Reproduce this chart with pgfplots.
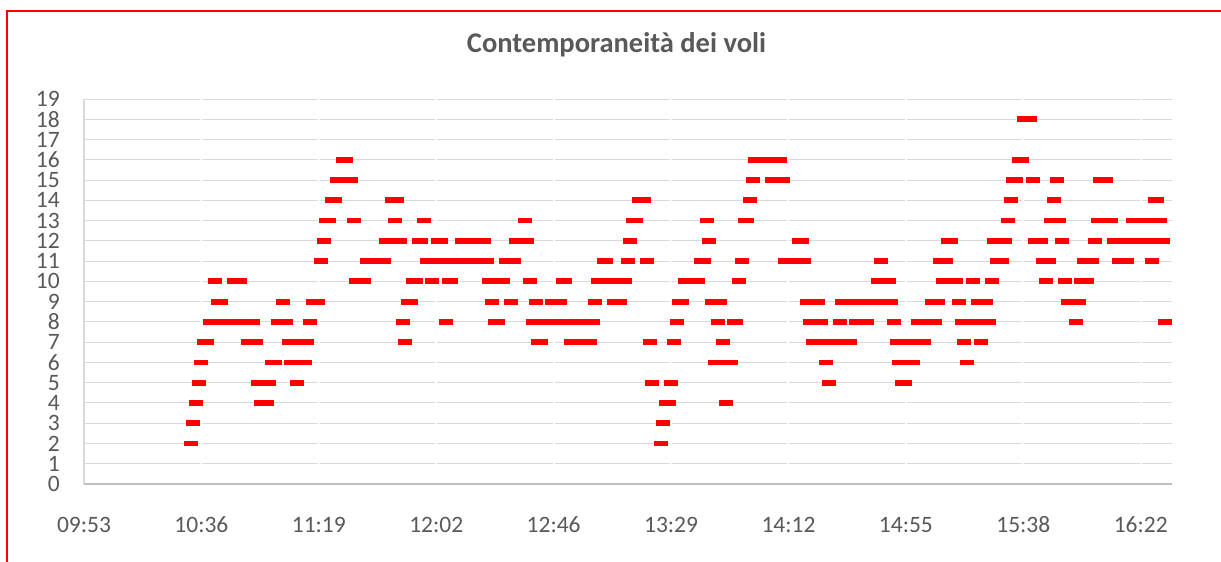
\documentclass[border=0pt]{standalone}
\usepackage{fontspec}
\setmainfont{Carlito}
\usepackage{pgfplots}
\pgfplotsset{compat=1.18}
\definecolor{lab}{RGB}{89,89,89}
\definecolor{gridc}{RGB}{217,217,217}
\definecolor{axc}{RGB}{191,191,191}
\pgfdeclareplotmark{dashbar}{\pgfpathrectangle{\pgfqpoint{-7pt}{-2.9pt}}{\pgfqpoint{14pt}{5.8pt}}\pgfusepathqfill}
% x = minutes after midnight, y = simultaneous flights
\pgfplotstableread{
x y
632.7 2
805.6 2
633.4 3
806.4 3
634.5 4
658.4 4
660.6 4
807.5 4
808.6 4
829.5 4
635.6 5
657.3 5
661.4 5
671.7 5
802.3 5
809.3 5
867.4 5
894.3 5
895.4 5
636.3 6
662.5 6
663.6 6
669.5 6
674.6 6
825.5 6
828.4 6
831.4 6
866.3 6
893.2 6
898.4 6
918.2 6
637.4 7
638.5 7
653.6 7
656.6 7
668.7 7
672.8 7
675.4 7
711.4 7
760.4 7
761.5 7
772.5 7
776.9 7
779.5 7
801.6 7
810.4 7
828.4 7
861.6 7
866.3 7
870.8 7
875.2 7
892.5 7
897.4 7
902.4 7
917.1 7
923.4 7
639.7 8
644.1 8
648.5 8
652.9 8
655.5 8
664.7 8
667.6 8
676.4 8
710.7 8
726.5 8
744.5 8
745.6 8
758.5 8
763.3 8
768.1 8
772.9 8
777.6 8
780.6 8
811.5 8
826.6 8
832.5 8
833.2 8
860.5 8
864.5 8
871.5 8
877.4 8
881.4 8
891.4 8
900.2 8
903.9 8
906.5 8
916.4 8
921.3 8
926.3 8
958.3 8
991.1 8
642.6 9
643.7 9
666.5 9
677.6 9
679.4 9
712.5 9
713.6 9
743.4 9
750.4 9
759.6 9
765.5 9
768.4 9
781.3 9
788.3 9
790.5 9
812.2 9
813.3 9
824.4 9
827.3 9
859.4 9
863.4 9
872.2 9
877.0 9
881.8 9
886.2 9
890.3 9
905.3 9
907.6 9
915.3 9
922.3 9
925.2 9
955.4 9
959.4 9
641.5 10
648.5 10
650.7 10
693.4 10
696.3 10
714.4 10
715.5 10
721.3 10
727.6 10
728.3 10
742.3 10
747.5 10
757.4 10
769.6 10
770.3 10
782.4 10
787.4 10
792.4 10
814.4 10
819.2 10
834.3 10
885.5 10
889.5 10
909.4 10
914.2 10
920.4 10
927.4 10
947.3 10
954.3 10
960.2 10
962.4 10
680.5 11
697.4 11
701.1 11
703.7 11
719.5 11
724.3 11
729.1 11
733.9 11
738.6 11
741.6 11
748.6 11
751.5 11
784.6 11
785.4 11
793.5 11
800.5 11
820.3 11
821.4 11
835.4 11
851.3 11
855.7 11
858.3 11
886.6 11
908.3 11
910.5 11
929.3 11
931.1 11
946.2 11
948.4 11
961.3 11
964.2 11
974.2 11
977.1 11
986.3 11
681.6 12
704.4 12
709.6 12
716.6 12
717.3 12
723.6 12
724.7 12
732.4 12
736.4 12
740.5 12
752.3 12
756.3 12
794.2 12
823.3 12
856.4 12
857.5 12
911.2 12
912.4 12
928.2 12
932.2 12
943.3 12
945.5 12
953.2 12
965.3 12
972.3 12
977.1 12
981.9 12
986.3 12
990.4 12
682.3 13
683.4 13
692.6 13
707.7 13
718.4 13
755.6 13
795.3 13
796.4 13
822.5 13
836.5 13
837.3 13
933.3 13
949.1 13
952.1 13
966.4 13
971.2 13
979.3 13
984.3 13
989.3 13
684.5 14
685.7 14
706.6 14
708.5 14
797.5 14
799.4 14
838.4 14
934.4 14
950.2 14
987.4 14
988.1 14
686.4 15
691.5 15
839.5 15
846.5 15
850.5 15
935.1 15
936.3 15
942.5 15
951.3 15
967.2 15
969.4 15
688.6 16
689.7 16
840.2 16
844.6 16
849.4 16
937.4 16
938.5 16
939.2 18
941.4 18
}\flights
\begin{document}
\begin{tikzpicture}
\useasboundingbox (0pt,0pt) rectangle (1221pt,-562pt);
\clip (0pt,0pt) rectangle (1221pt,-562pt);
\fill[white] (0pt,0pt) rectangle (1221pt,-562pt);
\draw[red, line width=2pt] (7pt,-600pt) -- (7pt,-11pt) -- (1260pt,-11pt);
\begin{axis}[
  at={(84pt,-484pt)}, anchor=south west,
  scale only axis, width=1088pt, height=385pt,
  xmin=593.28, xmax=993.6, ymin=0, ymax=19,
  xtick={593.28,636.48,679.68,722.88,766.08,809.28,852.48,895.68,938.88,982.08},
  xticklabels={09:53,10:36,11:19,12:02,12:46,13:29,14:12,14:55,15:38,16:22},
  ytick={0,1,...,19},
  /pgf/number format/assume math mode=true,
  major tick length=0pt,
  axis line style={draw=none},
  ymajorgrids, major grid style={draw=gridc, line width=1pt},
  tick label style={font=\fontsize{23.5}{28}\selectfont, text=lab},
  yticklabel style={anchor=east, inner sep=0pt, xshift=-24pt},
  xticklabel style={anchor=north, inner sep=0pt, yshift=-32.7pt},
  title={Contemporaneità dei voli},
  title style={at={(axis description cs:0.4894,1.1055)}, anchor=base, inner sep=0pt,
    font=\bfseries\fontsize{28.5}{34}\selectfont, text=lab},
  clip=false,
]
\addplot[ycomb, draw=white, line width=2pt, mark=none, forget plot] coordinates {
  (636.48,19) (679.68,19) (722.88,19) (766.08,19) (809.28,19)
  (852.48,19) (895.68,19) (938.88,19) (982.08,19)};
\draw[gridc, line width=1.3pt] (rel axis cs:0,0) -- (rel axis cs:0,1);
\draw[axc, line width=2pt] (rel axis cs:0,0) -- (rel axis cs:1,0);
\addplot[only marks, mark=dashbar, color=red] table[x=x, y=y] {\flights};
\end{axis}
\end{tikzpicture}
\end{document}
